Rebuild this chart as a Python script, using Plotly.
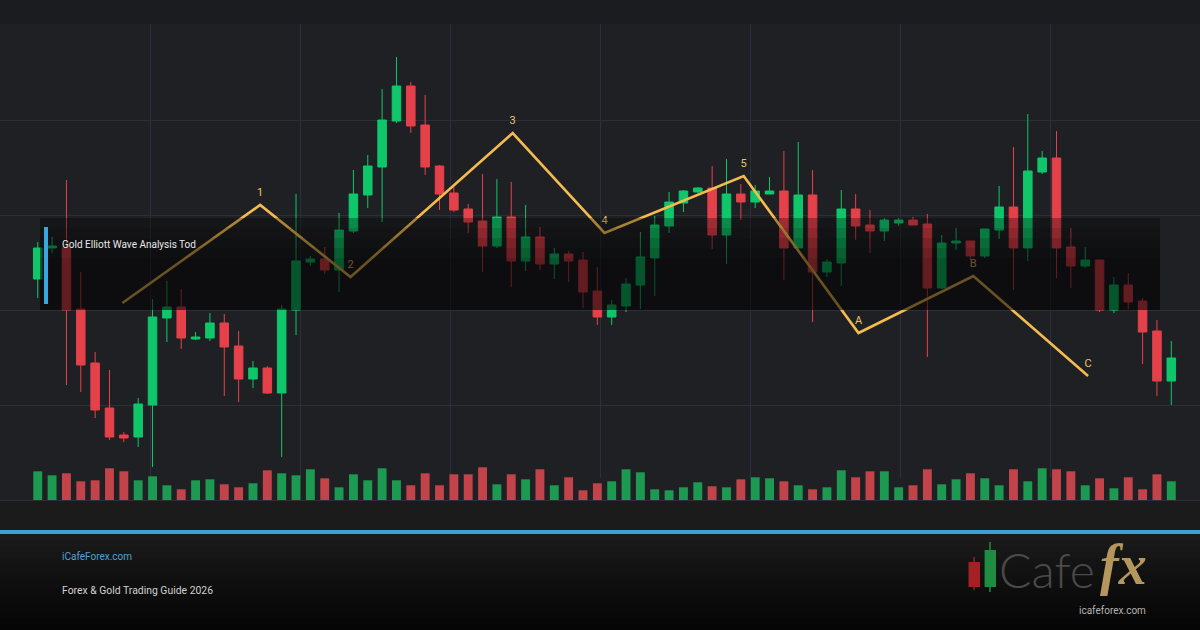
import plotly.graph_objects as go

W, H = 1200, 630

# ---------------- data ----------------
OPEN = [2221, 2252, 2252, 2191, 2137, 2092, 2065, 2063, 2095, 2182,
        2193, 2161, 2162, 2177, 2154, 2121, 2132, 2107, 2190, 2238,
        2241, 2230, 2269, 2305, 2333, 2379, 2414, 2375, 2334, 2307,
        2291, 2279, 2254, 2283, 2239, 2263, 2236, 2246, 2240, 2209,
        2183, 2194, 2215, 2242, 2274, 2297, 2308, 2312, 2265, 2306,
        2298, 2306, 2309, 2252, 2305, 2228, 2237, 2291, 2275, 2269,
        2277, 2280, 2276, 2212, 2257, 2259, 2244, 2270, 2293, 2252,
        2328, 2342, 2253, 2234, 2240, 2190, 2215, 2199, 2169, 2119]
HIGH = [2258, 2263, 2320, 2228, 2148, 2130, 2068, 2102, 2201, 2219,
        2211, 2168, 2187, 2186, 2169, 2139, 2134, 2195, 2306, 2244,
        2253, 2287, 2330, 2345, 2411, 2443, 2418, 2405, 2335, 2313,
        2296, 2326, 2321, 2318, 2295, 2273, 2252, 2249, 2248, 2233,
        2200, 2222, 2268, 2284, 2308, 2310, 2313, 2334, 2341, 2316,
        2315, 2323, 2349, 2358, 2330, 2241, 2310, 2306, 2290, 2282,
        2282, 2283, 2286, 2265, 2272, 2259, 2271, 2314, 2353, 2386,
        2349, 2369, 2272, 2253, 2240, 2223, 2227, 2202, 2180, 2159]
LOW = [2202, 2247, 2115, 2108, 2082, 2060, 2058, 2053, 2033, 2158,
       2151, 2160, 2159, 2104, 2098, 2112, 2106, 2043, 2165, 2234,
       2226, 2208, 2267, 2292, 2278, 2377, 2367, 2325, 2290, 2288,
       2267, 2228, 2252, 2213, 2229, 2230, 2221, 2218, 2192, 2175,
       2175, 2188, 2191, 2204, 2267, 2288, 2307, 2251, 2236, 2280,
       2292, 2306, 2220, 2252, 2178, 2223, 2214, 2260, 2247, 2259,
       2274, 2275, 2143, 2211, 2250, 2240, 2242, 2261, 2210, 2239,
       2326, 2222, 2212, 2232, 2188, 2187, 2191, 2136, 2104, 2095]
CLOSE = [2252, 2254, 2190, 2135, 2090, 2063, 2062, 2096, 2183, 2193,
         2162, 2163, 2177, 2153, 2121, 2132, 2107, 2191, 2239, 2241,
         2230, 2270, 2306, 2334, 2380, 2414, 2374, 2333, 2306, 2290,
         2278, 2254, 2283, 2239, 2263, 2236, 2246, 2239, 2208, 2183,
         2195, 2216, 2243, 2275, 2298, 2309, 2312, 2265, 2306, 2298,
         2309, 2309, 2252, 2305, 2228, 2238, 2291, 2274, 2269, 2280,
         2280, 2275, 2212, 2257, 2259, 2244, 2271, 2293, 2252, 2329,
         2342, 2252, 2234, 2240, 2190, 2215, 2198, 2168, 2119, 2142]

VOLUME_K = [28.7, 24.7, 26.7, 18.7, 19.7, 31.7, 28.7, 19.7, 23.7, 14.7,
            10.7, 19.7, 20.7, 15.7, 12.7, 16.7, 29.7, 26.7, 24.7, 30.7,
            21.7, 12.7, 25.7, 19.7, 31.7, 19.7, 14.7, 26.7, 14.7, 25.7,
            25.7, 32.7, 15.7, 25.7, 20.7, 30.7, 14.7, 22.7, 9.7, 16.7,
            18.7, 30.7, 27.7, 10.7, 9.7, 12.7, 17.7, 13.7, 12.7, 20.7,
            22.7, 21.7, 18.7, 14.7, 10.7, 12.7, 29.7, 22.7, 28.7, 28.7,
            12.7, 14.7, 30.7, 15.7, 20.7, 26.7, 21.7, 14.7, 30.7, 18.7,
            31.7, 30.7, 28.7, 14.7, 21.7, 11.7, 22.7, 10.7, 25.7, 18.7]
VOLUME_DIR = ["up", "up", "down", "down", "down", "down", "down", "up", "up", "up",
              "down", "up", "up", "down", "down", "up", "down", "up", "up", "up",
              "down", "up", "up", "up", "up", "up", "down", "down", "down", "down",
              "down", "down", "up", "down", "up", "down", "up", "down", "down", "down",
              "up", "up", "up", "up", "up", "up", "up", "down", "up", "down",
              "up", "up", "down", "up", "down", "up", "up", "down", "down", "up",
              "up", "down", "down", "up", "up", "down", "up", "up", "down", "up",
              "up", "down", "down", "up", "down", "up", "down", "down", "down", "up"]

WAVE_X = [5.9, 15.5, 21.8, 33.1, 39.5, 49.2, 57.2, 65.2, 73.2]
WAVE_PRICE = [2197, 2295, 2223, 2367, 2267, 2324, 2167, 2224, 2124]
WAVE_LABELS = ["", "1", "2", "3", "4", "5", "A", "B", "C"]

TITLE = "Gold Elliott Wave Analysis Tod"
SITE = "iCafeForex.com"
SUBTITLE = "Forex & Gold Trading Guide 2026"

# ---------------- style ----------------
GREEN = "#0fc76a"
RED = "#e5414b"
VOL_GREEN = "#1d9a52"
VOL_RED = "#c2444a"
GRID = "#2b2f3b"
GOLD = "#f4bc4e"
FONT = "Roboto, sans-serif"

x_idx = list(range(len(OPEN)))


def py(ypx):
    return 1 - ypx / H


def prect(x0, y0, x1, y1, color, layer="below"):
    return dict(type="rect", xref="paper", yref="paper",
                x0=x0 / W, x1=x1 / W, y0=py(y1), y1=py(y0),
                fillcolor=color, line=dict(width=0), layer=layer)


fig = go.Figure()

fig.add_trace(go.Candlestick(
    x=x_idx, open=OPEN, high=HIGH, low=LOW, close=CLOSE,
    increasing=dict(line=dict(color=GREEN, width=1), fillcolor=GREEN),
    decreasing=dict(line=dict(color=RED, width=1), fillcolor=RED),
    whiskerwidth=0, showlegend=False, hoverinfo="skip",
    xaxis="x", yaxis="y"))

fig.add_trace(go.Scatter(
    x=WAVE_X, y=WAVE_PRICE, mode="lines+markers+text", text=WAVE_LABELS,
    textposition="top center",
    textfont=dict(family="Roboto, sans-serif", size=11, color="#e9c46a"),
    marker=dict(size=9, color="rgba(0,0,0,0)", line=dict(width=0)),
    line=dict(color=GOLD, width=2.6), showlegend=False, hoverinfo="skip",
    xaxis="x", yaxis="y"))

fig.add_trace(go.Bar(
    x=x_idx, y=VOLUME_K, width=0.62,
    marker=dict(color=[VOL_GREEN if d == "up" else VOL_RED for d in VOLUME_DIR],
                line=dict(width=0)),
    showlegend=False, hoverinfo="skip", xaxis="x2", yaxis="y2"))

shapes = []
# backgrounds
shapes.append(prect(0, 24, 1200, 500, "#1f2023"))
shapes.append(prect(0, 500, 1200, 530, "#1c1b1b"))
shapes.append(prect(0, 530, 1200, 534, "#3ca0d3"))
n_bands = 16
top_c, bot_c = (27, 26, 26), (5, 5, 5)
for k in range(n_bands):
    t = k / (n_bands - 1)
    c = tuple(round(top_c[j] + (bot_c[j] - top_c[j]) * t) for j in range(3))
    y0 = 534 + k * 96 / n_bands
    shapes.append(prect(0, y0, 1200, y0 + 96 / n_bands + 0.5, "rgb(%d,%d,%d)" % c))

# dark info band over the chart
band_steps = [(218, 228, 0.30), (228, 238, 0.38), (238, 248, 0.46),
              (248, 258, 0.52), (258, 310, 0.57)]
for y0, y1, a in band_steps:
    shapes.append(prect(40, y0, 1160, y1, "rgba(0,0,0,%.2f)" % a, "above"))
shapes.append(prect(44, 227, 48, 304, "#3aa6e0", "above"))

# logo candles
shapes.append(dict(type="line", xref="paper", yref="paper", x0=974 / W, x1=974 / W,
                   y0=py(590), y1=py(557), line=dict(color="#9e1c20", width=1.5), layer="above"))
shapes.append(prect(968.5, 562, 980, 587, "#a51f24", "above"))
shapes.append(dict(type="line", xref="paper", yref="paper", x0=990 / W, x1=990 / W,
                   y0=py(592), y1=py(542), line=dict(color="#1f8c42", width=1.5), layer="above"))
shapes.append(prect(984.6, 550, 996, 587, "#1f8c42", "above"))

annotations = [
    dict(text=TITLE, x=60 / W, y=py(245), xref="paper", yref="paper",
         xanchor="left", yanchor="middle", showarrow=False,
         font=dict(family=FONT, size=10, color="#e8e8e8")),
    dict(text=SITE, x=60 / W, y=py(556), xref="paper", yref="paper",
         xanchor="left", yanchor="middle", showarrow=False,
         font=dict(family=FONT, size=10, color="#4ba3d6")),
    dict(text=SUBTITLE, x=60 / W, y=py(590), xref="paper", yref="paper",
         xanchor="left", yanchor="middle", showarrow=False,
         font=dict(family=FONT, size=10.4, color="#d0d0d0")),
    dict(text="Cafe", x=1096 / W, y=py(569), xref="paper", yref="paper",
         xanchor="right", yanchor="middle", showarrow=False, borderpad=0,
         font=dict(family="Lato, Roboto, sans-serif", size=48, color="#4a4a4a", weight=300)),
    dict(text="<b><i>fx</i></b>", x=1099 / W, y=py(565), xref="paper", yref="paper",
         xanchor="left", yanchor="middle", showarrow=False, borderpad=0,
         font=dict(family="Liberation Serif, DejaVu Serif, serif", size=56, color="#b5965c")),
    dict(text="icafeforex.com", x=1112 / W, y=py(610), xref="paper", yref="paper",
         xanchor="center", yanchor="middle", showarrow=False, borderpad=0,
         font=dict(family=FONT, size=10, color="#b4b4b4")),
]

fig.update_layout(
    width=W, height=H, autosize=False,
    margin=dict(l=0, r=0, t=0, b=0, pad=0),
    paper_bgcolor="#1b1c1f", plot_bgcolor="rgba(0,0,0,0)",
    boxgap=0.15, showlegend=False,
    shapes=shapes, annotations=annotations,
    xaxis=dict(domain=[0, 1], range=[-2.63, 81.0], anchor="y",
               showgrid=True, gridcolor=GRID, gridwidth=1,
               tick0=7.873, dtick=10.454, showticklabels=False, ticks="",
               zeroline=False, showline=False, rangeslider=dict(visible=False),
               fixedrange=True),
    yaxis=dict(domain=[py(478), py(24)], range=[2022, 2476], anchor="x",
               showgrid=True, gridcolor=GRID, gridwidth=1,
               tick0=2000, dtick=95, showticklabels=False, ticks="",
               zeroline=False, showline=False, fixedrange=True),
    xaxis2=dict(matches="x", anchor="y2", domain=[0, 1], showgrid=False,
                showticklabels=False, ticks="", zeroline=False,
                showline=True, linecolor=GRID, linewidth=1,
                rangeslider=dict(visible=False)),
    yaxis2=dict(domain=[py(500), py(440)], range=[0, 60], anchor="x2",
                showgrid=False, showticklabels=False, ticks="",
                zeroline=False, showline=False, fixedrange=True),
)

fig.write_html("out.html")
